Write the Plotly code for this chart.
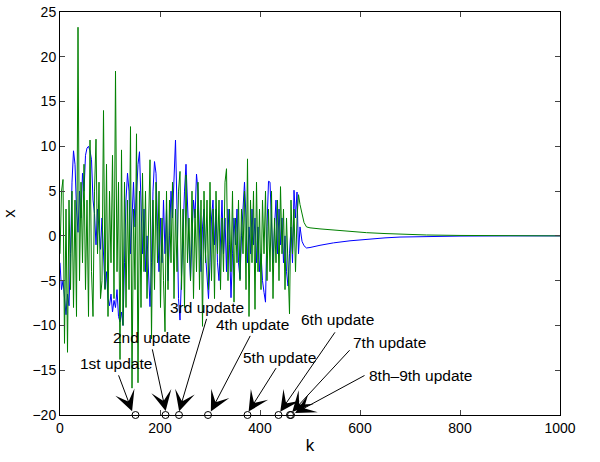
import plotly.graph_objects as go

# ---------------- data ----------------
# noisy phase sampled every 3 steps (k = 0 ... 480), then the settling phase
k_noisy = list(range(0, 483, 3))

blue_noisy = [
    -3, -6, -5, -7.5, -8.8, -6.5, -7.8, -2, 6, 9.5,
    8, 3, 0.4, 5, 2, 7, 5, 9, 9.8, 10,
    9.5, 8.5, 4, 2.5, -1, 3, 1, -1.5, 2, -3,
    -5.9, -4, -7, -7.8, -6.5, -8.5, -7.2, -8, -6, -9,
    -9.6, -8.5, -10, -3, 4, 7, 5, -2, 3, 6,
    1, 5, 8, 9.4, 4, -2, 3, -4, 0, -5,
    -7.9, -3, 5, 8.3, 7, 1, -4, 2, -3, 4,
    -2, 3, -5, 0, 5, 2, 7, 10.7, 3, -7,
    -9.4, -4, 2, 5, 8, 3, -2, -5, 0, 4,
    2, 6.9, 5, -1, -4, 1, 3, -2, -5, -7,
    -3, 2, 4, -1, 3, -3, -5, 1, 4, -2,
    2, -4, 3, -1, -6.9, -2, 2, -1, 3, -3,
    -4.8, 0, 4, 6, 2, -3, 1, -2, 3, -1,
    2, -3, 1, -4, -2, -5, -6.3, -7.4, 1, 6.1,
    6, 2, -3, 1, 4, -2, 3, -1, 2, -3,
    0, -4, -5.6, -2, 1, -3, 5.1, 2, 4.9, -2, 1,
]

green_noisy = [
    -2, 5, 6.3, -12, 3, -13, 4, -6, 5, -8,
    4, -9, 23.3, -5, 6, -3, 8, -6, 4, -9,
    10.7, -4, -9, 5, 10.8, -2, 6, -7, -5, 14,
    -6, 8, -9, 5, -3, 9, -7, 18.4, -4, 6,
    -13.8, 9.6, -10, 6, -8, 4, -6, 12.2, -17, 3,
    -6, 11.4, -16.4, 5, -8, 7, -4, 5, -7, 3,
    8.5, -11.5, 4, -6, 6, -3, 5, -8, 2, -5,
    -10.7, 5, -6, 4, -3, 6, -7, 3, -4, 5,
    7.2, -6, 3, -8, 6.8, -3, 2, -5, 5, -7,
    3, -4, 6, -6, 4, -10.1, 5, -3, 4, -6,
    6, -5, 3, -7, 5, -2, 4, -6, 2, -4,
    6, 7.5, -5, 3, -4, 5, -7.4, 2, -3, 4,
    -5, 3, -2, 5, -6, 8.6, -9, 4, -3, 5,
    -8.2, 6, -4, 3, -6, 4, -2, 5, -5, 3,
    -4, 5, -7, 2, -3, 4, -5, 5.5, -2, 3,
    -6, 2, -3, -8.7, 4, -2, 3, -4, 2, 4.6, 3.5,
]

k_settle = [484, 488, 493, 500, 520, 547, 580, 613, 650, 680, 733, 800, 900, 1000]
blue_settle = [-0.6, -1.1, -1.35, -1.3, -1.05, -0.78, -0.55, -0.37, -0.22, -0.13, -0.06, -0.02, 0, 0]
green_settle = [2.4, 1.5, 1.0, 0.9, 0.78, 0.65, 0.5, 0.36, 0.26, 0.2, 0.1, 0.05, 0.02, 0]

k_all = k_noisy + k_settle
blue_all = blue_noisy + blue_settle
green_all = green_noisy + green_settle

# update instants (circles on the bottom axis)
k_updates = [151, 211, 238, 296, 375, 437, 460, 462]
y_updates = [-20] * len(k_updates)

# annotation labels, text positions and arrow tails (data coordinates)
labels = ["1st update", "2nd update", "3rd update", "4th update",
          "5th update", "6th update", "7th update", "8th\u20139th update"]
label_k = [112, 184, 294, 384, 438, 554, 658, 720]
label_y = [-14.2, -11.3, -8.0, -9.9, -13.6, -9.3, -11.9, -15.6]
tail_k = [116, 184, 294, 382, 434, 552, 582, 612]
tail_y = [-15.4, -12.5, -9.1, -11.0, -14.6, -10.6, -12.6, -15.5]
tip_k = [147, 213, 236, 298, 373, 436, 459, 463]

# x-axis and y-axis ticks
x_ticks = [0, 200, 400, 600, 800, 1000]
y_ticks = [-20, -15, -10, -5, 0, 5, 10, 15, 20, 25]

FONT = "Liberation Sans, Arial, Helvetica, sans-serif"

fig = go.Figure()
fig.add_trace(go.Scatter(x=k_all, y=blue_all, mode="lines",
                         line=dict(color="#0000ff", width=1), showlegend=False))
fig.add_trace(go.Scatter(x=k_all, y=green_all, mode="lines",
                         line=dict(color="#008000", width=1), showlegend=False))
fig.add_trace(go.Scatter(x=k_updates, y=y_updates, mode="markers",
                         marker=dict(symbol="circle-open", size=7,
                                     color="black", line=dict(width=1)),
                         cliponaxis=False, showlegend=False))

annotations = []
for lab, lk, ly in zip(labels, label_k, label_y):
    annotations.append(dict(x=lk, y=ly, xref="x", yref="y", text=lab,
                            showarrow=False, font=dict(family=FONT, size=15.5, color="black")))
for tk, tx, ty in zip(tip_k, tail_k, tail_y):
    annotations.append(dict(x=tk, y=-20, xref="x", yref="y", text="",
                            showarrow=True, ax=tx, ay=ty, axref="x", ayref="y",
                            arrowhead=3, arrowsize=3.4, arrowwidth=1,
                            arrowcolor="black", standoff=4))

fig.update_layout(
    width=600, height=462,
    margin=dict(l=60, r=40, t=12, b=47, autoexpand=False),
    paper_bgcolor="white", plot_bgcolor="white",
    font=dict(family=FONT, size=14, color="black"),
    annotations=annotations,
    xaxis=dict(range=[0, 1000], tickvals=x_ticks, ticks="inside", ticklen=5,
               showline=True, linecolor="black", linewidth=1, mirror="ticks",
               showgrid=False, zeroline=False, automargin=False,
               title=dict(text="k", standoff=4), tickfont=dict(size=14)),
    yaxis=dict(range=[-20, 25], tickvals=y_ticks, ticks="inside", ticklen=5,
               showline=True, linecolor="black", linewidth=1, mirror="ticks",
               showgrid=False, zeroline=False, automargin=False,
               title=dict(text="x", standoff=12), tickfont=dict(size=14)),
)

fig.write_html("out.html")
